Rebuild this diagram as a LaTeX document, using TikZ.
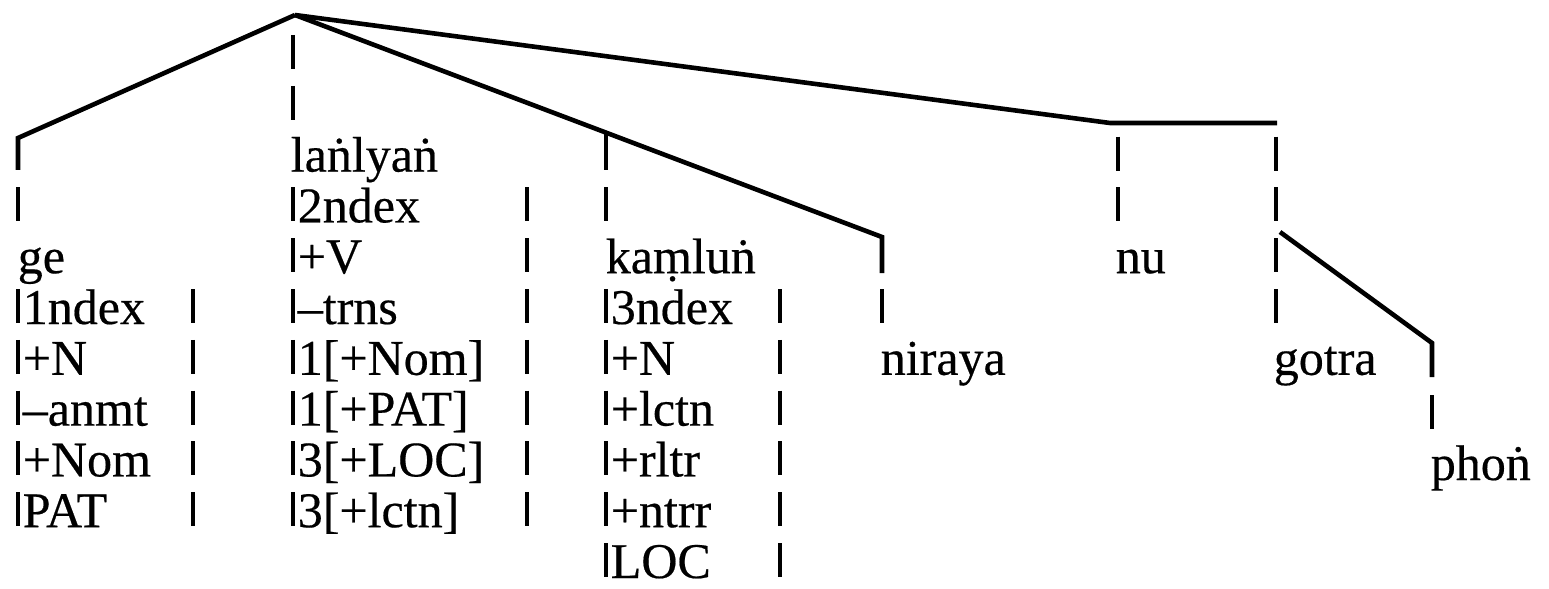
\documentclass[tikz,border=0pt]{standalone}
\usepackage{fontspec}
\setmainfont[FakeBold=0.4]{Liberation Serif}
\newcommand\vbar[2]{\draw[bar] (#1,{70+50.8*#2-35}) -- (#1,{70+50.8*#2-1});}
\begin{document}
\begin{tikzpicture}[x=0.25pt,y=-0.25pt,
  word/.style={anchor=base west,inner sep=0pt,font=\fontsize{12.5}{12.7}\selectfont},
  branch/.style={line width=1.15pt},
  bar/.style={line width=1pt}]
\useasboundingbox (0,0) rectangle (1549,588);
\coordinate (top) at (295,15);
\coordinate (kge) at (18,138);
\coordinate (kkam) at (606,133);
\coordinate (knir) at (882,237);
\coordinate (knu) at (1110,123);
\coordinate (kgot) at (1277,123);
\coordinate (kphr) at (1280,232);
\coordinate (kphon) at (1432,343);
\node[word] (ge) at (17,{70+50.8*4}) {ge};
\node[word] (lanlyan) at (290,{70+50.8*2}) {laṅlyaṅ};
\node[word] (kamlun) at (605,{70+50.8*4}) {kaṃluṅ};
\node[word] (niraya) at (880,{70+50.8*6}) {niraya};
\node[word] (nu) at (1115,{70+50.8*4}) {nu};
\node[word] (gotra) at (1273,{70+50.8*6}) {gotra};
\node[word] (phon) at (1430,480) {phoṅ};
\draw[branch] (top) -- (kge) -- ++(0,32);
\draw[branch] (top) -- (knir) -- ++(0,36);
\draw[branch] (top) -- (knu) -- (kgot);
\draw[branch] (kphr) -- (kphon) -- ++(0,34);
\draw[bar] (kkam) -- (606,170);
\draw[bar] (1432,395) -- (1432,429);
\vbar{18}{3}
\foreach \k in {0,1} {\vbar{293}{\k}}
\vbar{606}{3}
\vbar{882}{5}
\foreach \k in {2,3} {\vbar{1118}{\k}}
\foreach \k in {2,...,5} {\vbar{1276}{\k}}
\foreach \t [count=\k from 5] in {1ndex,+N,--anmt,+Nom,PAT}
  {\node[word] (ge-\k) at (22,{70+50.8*\k}) {\t};
   \vbar{18}{\k} \vbar{193}{\k}}
\foreach \t [count=\k from 3] in {2ndex,+V,--trns,1[+Nom],1[+PAT],3[+LOC],3[+lctn]}
  {\node[word] (lanlyan-\k) at (297,{70+50.8*\k}) {\t};
   \vbar{293}{\k} \vbar{527}{\k}}
\foreach \t [count=\k from 5] in {3ndex,+N,+lctn,+rltr,+ntrr,LOC}
  {\node[word] (kamlun-\k) at (610,{70+50.8*\k}) {\t};
   \vbar{606}{\k} \vbar{780}{\k}}
\end{tikzpicture}
\end{document}
